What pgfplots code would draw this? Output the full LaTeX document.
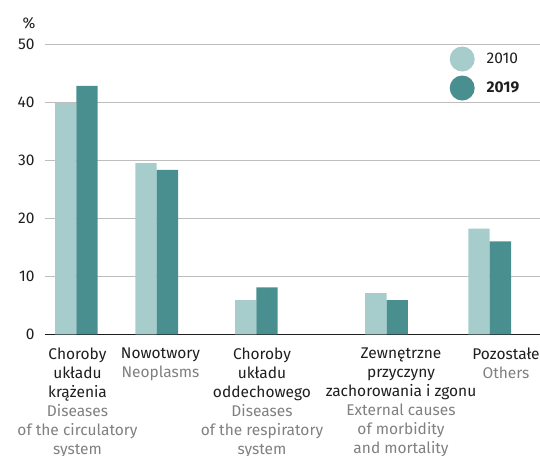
\documentclass[border=0pt]{standalone}
\usepackage{fontspec}
\setmainfont{Fira Sans}
\usepackage{pgfplots}
\pgfplotsset{compat=1.18}
\definecolor{light}{HTML}{A6CCCC}
\definecolor{dark}{HTML}{498F90}
\definecolor{gridc}{HTML}{BEBEBE}
\definecolor{eng}{HTML}{808080}
\definecolor{txt}{HTML}{1E1E1E}
\newcommand\f{\fontsize{15.5bp}{19bp}\selectfont}
\newcommand\en[1]{\textcolor{eng}{#1}}
\begin{document}
\begin{tikzpicture}
\clip (-44.7bp,-121.7bp) rectangle (495.3bp,334.3bp);
\begin{axis}[
  scale only axis, width=495.3bp, height=290.3bp,
  xmin=44.7, xmax=540, ymin=0, ymax=50,
  clip=false,
  axis x line*=bottom, axis y line*=left,
  y axis line style={draw=none},
  x axis line style={draw=txt, line width=1.3bp, -},
  major tick length=0pt,
  ytick={0,10,...,50},
  ymajorgrids, grid style={draw=gridc, line width=1bp},
  /pgf/number format/assume math mode=true,
  yticklabel style={font=\f, text=txt, inner sep=0pt, xshift=-10bp, anchor=east},
  xtick={77.5,160.5,262,401,506},
  xticklabels={
    {Choroby\\układu\\krążenia\\\en{Diseases}\\\en{of the circulatory}\\\en{system}},
    {Nowotwory\\\en{Neoplasms}},
    {Choroby\\układu\\oddechowego\\\en{Diseases}\\\en{of the respiratory}\\\en{system}},
    {Zewnętrzne\\przyczyny\\zachorowania i zgonu\\\en{External causes}\\\en{of morbidity}\\\en{and mortality}},
    {Pozostałe\\\en{Others}}
  },
  xticklabel style={font=\f, text=txt, align=center, anchor=north, inner sep=0pt, yshift=-13bp},
  legend style={at={(axis cs:449.5,49.6)}, anchor=north west, draw=none, fill=none,
    inner sep=0pt, row sep=4bp, font=\f, text=txt,
    nodes={inner sep=0pt, anchor=west}},
  legend cell align=left,
  legend image code/.code={\fill[#1] (12.5bp,0bp) circle (12.5bp);},
  /tikz/every odd column/.append style={column sep=12bp},
]
\addplot[ybar, fill=light, draw=none, bar width=21.3, bar shift=-10.65]
  coordinates {(76.3,39.8) (156.7,29.5) (256.3,5.9) (386.5,7.1) (489.7,18.2)};
\addplot[ybar, fill=dark, draw=none, bar width=21.3, bar shift=10.65]
  coordinates {(76.3,42.8) (156.7,28.3) (256.3,8.1) (386.5,5.9) (489.7,16.0)};
\legend{2010,\textbf{2019}}
\node[font=\f, text=txt] at (axis cs:29,53.6) {\%};
\end{axis}
\end{tikzpicture}
\end{document}
